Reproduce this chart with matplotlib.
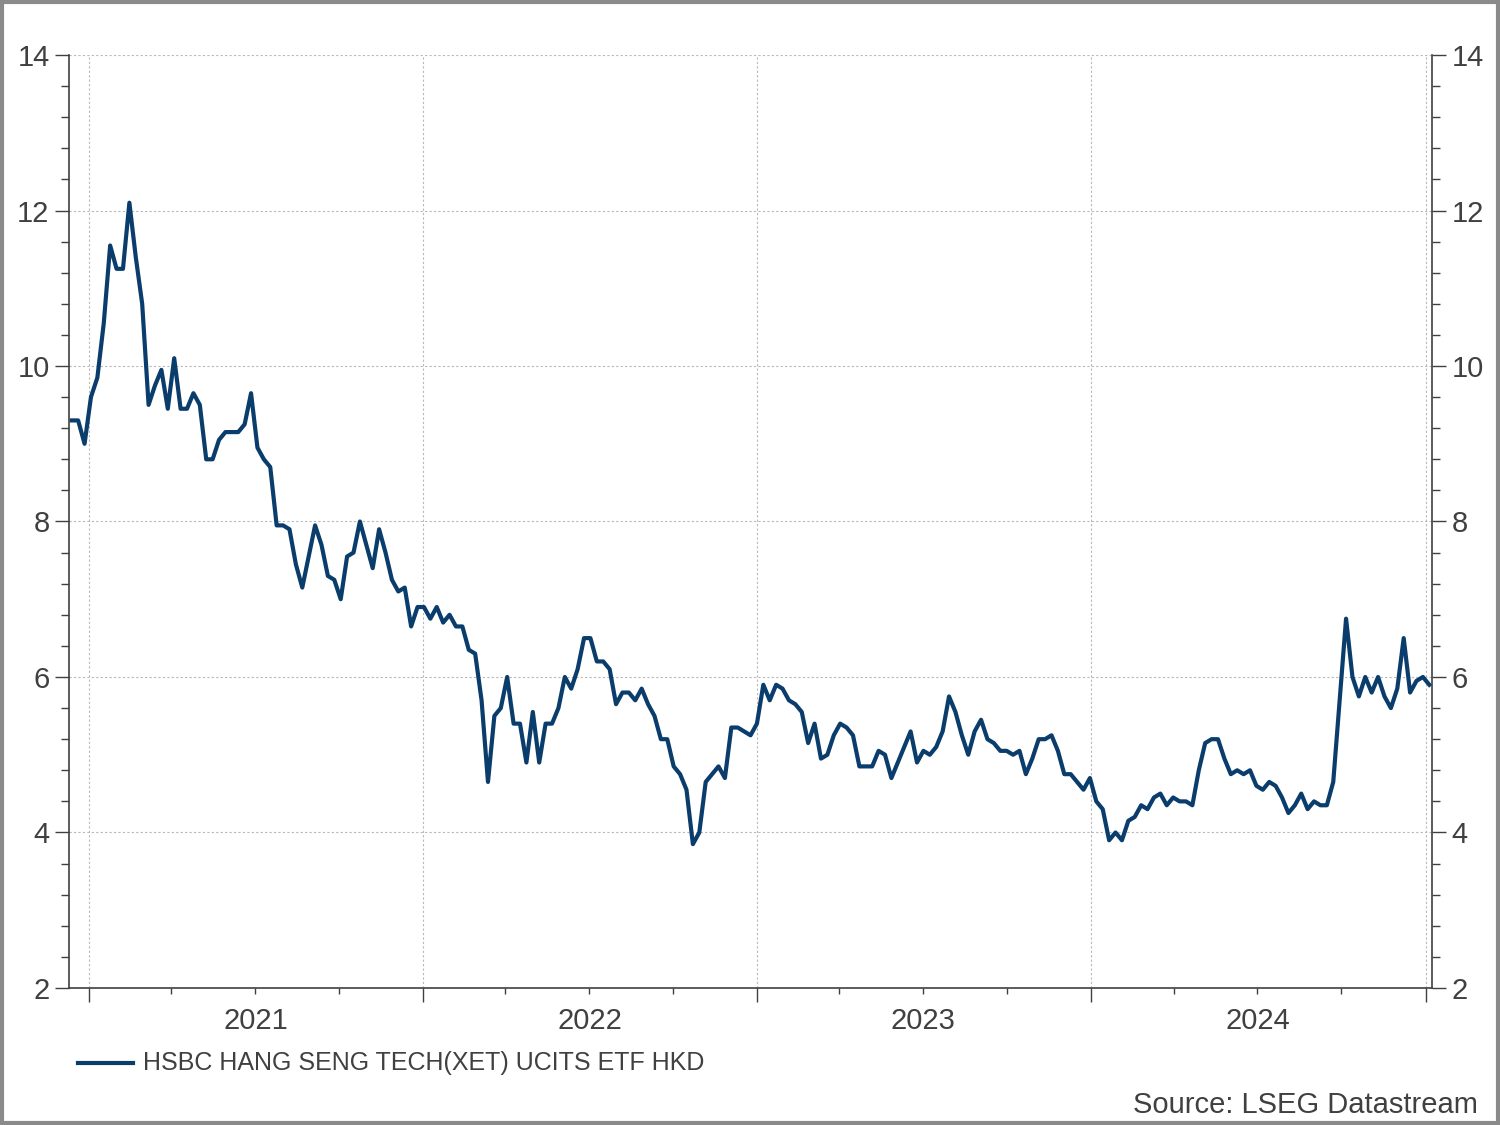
import matplotlib
matplotlib.use("Agg")
import matplotlib.pyplot as plt
import matplotlib.dates as mdates
import matplotlib.transforms as mtransforms
from matplotlib.patches import Rectangle
from matplotlib.ticker import MultipleLocator
import pandas as pd

plt.rcParams['font.family'] = ['Liberation Sans', 'DejaVu Sans']

# weekly closing prices (HKD)
prices = [
    9.3, 9.3, 9.0, 9.6, 9.85, 10.55, 11.55, 11.25, 11.25, 12.1,
    11.4, 10.8, 9.5, 9.75, 9.95, 9.45, 10.1, 9.45, 9.45, 9.65,
    9.5, 8.8, 8.8, 9.05, 9.15, 9.15, 9.15, 9.25, 9.65, 8.95,
    8.8, 8.7, 7.95, 7.95, 7.9, 7.45, 7.15, 7.55, 7.95, 7.7,
    7.3, 7.25, 7.0, 7.55, 7.6, 8.0, 7.7, 7.4, 7.9, 7.6,
    7.25, 7.1, 7.15, 6.65, 6.9, 6.9, 6.75, 6.9, 6.7, 6.8,
    6.65, 6.65, 6.35, 6.3, 5.7, 4.65, 5.5, 5.6, 6.0, 5.4,
    5.4, 4.9, 5.55, 4.9, 5.4, 5.4, 5.6, 6.0, 5.85, 6.1,
    6.5, 6.5, 6.2, 6.2, 6.1, 5.65, 5.8, 5.8, 5.7, 5.85,
    5.65, 5.5, 5.2, 5.2, 4.85, 4.75, 4.55, 3.85, 4.0, 4.65,
    4.75, 4.85, 4.7, 5.35, 5.35, 5.3, 5.25, 5.4, 5.9, 5.7,
    5.9, 5.85, 5.7, 5.65, 5.55, 5.15, 5.4, 4.95, 5.0, 5.25,
    5.4, 5.35, 5.25, 4.85, 4.85, 4.85, 5.05, 5.0, 4.7, 4.9,
    5.1, 5.3, 4.9, 5.05, 5.0, 5.1, 5.3, 5.75, 5.55, 5.25,
    5.0, 5.3, 5.45, 5.2, 5.15, 5.05, 5.05, 5.0, 5.05, 4.75,
    4.95, 5.2, 5.2, 5.25, 5.05, 4.75, 4.75, 4.65, 4.55, 4.7,
    4.4, 4.3, 3.9, 4.0, 3.9, 4.15, 4.2, 4.35, 4.3, 4.45,
    4.5, 4.35, 4.45, 4.4, 4.4, 4.35, 4.8, 5.15, 5.2, 5.2,
    4.95, 4.75, 4.8, 4.75, 4.8, 4.6, 4.55, 4.65, 4.6, 4.45,
    4.25, 4.35, 4.5, 4.3, 4.4, 4.35, 4.35, 4.65, 5.7, 6.75,
    6.0, 5.75, 6.0, 5.8, 6.0, 5.75, 5.6, 5.85, 6.5, 5.8,
    5.95, 6.0, 5.9,
]
dates = pd.date_range(end='2025-01-05', periods=len(prices), freq='W-SUN')
series_name = 'HSBC HANG SENG TECH(XET) UCITS ETF HKD'
years = [2021, 2022, 2023, 2024]

line_col = '#0a3d6b'
txt_col = '#404040'
ax_col = '#404040'

fig = plt.figure(figsize=(15, 11.25), dpi=100)
ax = fig.add_axes([0.046, 0.1218, 0.9087, 0.8293])

ax.plot(dates, prices, color=line_col, lw=3.0, solid_joinstyle='round')

ax.set_xlim(pd.Timestamp('2020-12-10'), pd.Timestamp('2025-01-08'))
ax.set_ylim(2, 14)

ax.yaxis.set_major_locator(MultipleLocator(2))
ax.yaxis.set_minor_locator(MultipleLocator(0.4))
ax.xaxis.set_major_locator(mdates.YearLocator())
ax.xaxis.set_minor_locator(mdates.MonthLocator(bymonth=[4, 7, 10]))
ax.xaxis.set_major_formatter(plt.NullFormatter())

ax.tick_params(axis='y', which='both', direction='out', colors=ax_col,
               labelcolor=txt_col, labelsize=21, left=True, right=True,
               labelleft=True, labelright=True, width=1, pad=4)
ax.tick_params(axis='y', which='major', length=10)
ax.tick_params(axis='y', which='minor', length=6)
ax.tick_params(axis='x', which='major', length=10, color=ax_col, width=1)
ax.tick_params(axis='x', which='minor', length=4, color=ax_col, width=1)

ax.grid(True, which='major', color='#b8b8b8', ls=(0, (2, 2)), lw=0.8)
for s in ['left', 'right', 'bottom']:
    ax.spines[s].set_color(ax_col)
    ax.spines[s].set_linewidth(1.2)
ax.spines['top'].set_visible(False)

# year labels centred mid-year
trans = mtransforms.blended_transform_factory(ax.transData, fig.transFigure)
for yr in years:
    ax.text(mdates.date2num(pd.Timestamp(f'{yr}-07-02')), 1 - 1021 / 1125, str(yr),
            transform=trans, ha='center', va='center', fontsize=21, color=txt_col)

# legend
fig.add_artist(plt.Line2D([78 / 1500, 133 / 1500], [1 - 1063 / 1125] * 2,
                          color=line_col, lw=3.0))
fig.text(143 / 1500, 1 - 1063 / 1125, series_name, ha='left', va='center',
         fontsize=18, color=txt_col)
fig.text(1478 / 1500, 1 - 1105 / 1125, 'Source: LSEG Datastream', ha='right',
         va='center', fontsize=21, color=txt_col)

# outer frame
fig.add_artist(Rectangle((0.0015, 0.002), 0.997, 0.996, transform=fig.transFigure,
                         fill=False, edgecolor='#8a8a8a', lw=3))

fig.savefig('out.png', dpi=100)
